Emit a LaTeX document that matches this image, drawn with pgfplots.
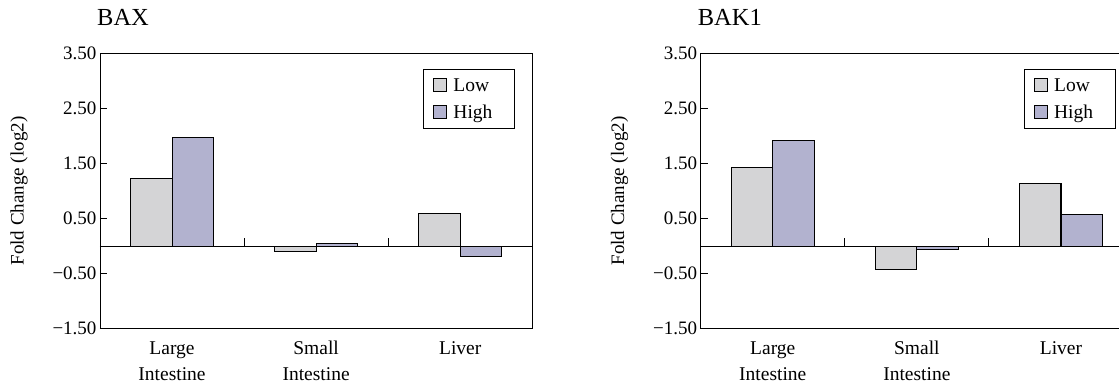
\documentclass[border=0pt]{standalone}
\usepackage{fontspec}
\setmainfont{Liberation Serif}
\usepackage{pgfplots}
\pgfplotsset{compat=1.18}
\definecolor{lowc}{RGB}{212,212,214}
\definecolor{highc}{RGB}{178,178,207}
\pgfplotsset{
  mychart/.style={
    scale only axis, width=432.3pt, height=275.4pt,
    xmin=-0.5, xmax=2.5, ymin=-1.5, ymax=3.5,
    ybar=0pt, bar width=41.5pt,
    axis line style={line width=0.9pt, black},
    xtick={0,1,2},
    xticklabels={Large\\Intestine, Small\\Intestine, Liver},
    xtick style={draw=none},
    xticklabel style={align=center, font=\fontsize{19.5}{26}\selectfont, yshift=-9pt},
    ytick={-1.5,-0.5,0.5,1.5,2.5,3.5},
    yticklabels={−1.50,−0.50,0.50,1.50,2.50,3.50},
    yticklabel style={font=\fontsize{19}{22}\selectfont},
    ytick pos=left, tick align=inside, major tick length=7pt,
    ytick style={line width=0.9pt, black},
    extra y ticks={0}, extra y tick labels={},
    extra y tick style={grid=major, major grid style={black, line width=1pt}, major tick length=0pt},
    ylabel={Fold Change (log2)},
    ylabel style={at={(axis description cs:-0.1874,0.5)}, anchor=center, font=\fontsize{19}{22}\selectfont},
    title style={at={(axis description cs:0,1)}, anchor=base west, inner sep=0pt, xshift=-3pt, yshift=22.3pt, font=\fontsize{24.5}{28}\selectfont},
    legend cell align=left,
    legend image code/.code={\draw[#1, draw=black, line width=1pt] (0pt,0.5pt) rectangle (13pt,13.5pt);},
    legend style={at={(axis description cs:0.7472,0.9419)}, anchor=north west, draw=black, line width=0.9pt,
      inner xsep=10pt, inner ysep=8pt, row sep=11.5pt, column sep=6pt,
      font=\fontsize{19.5}{23}\selectfont, nodes={inner sep=0pt, anchor=base west}},
  },
  lowbar/.style={fill=lowc, draw=black, line width=1.1pt},
  highbar/.style={fill=highc, draw=black, line width=1.1pt},
}
\begin{document}
\begin{tikzpicture}
\useasboundingbox (0,0) rectangle (1119pt,381pt);
\clip (0,0) rectangle (1119pt,381pt);
\begin{axis}[mychart, at={(100pt,52.3pt)}, anchor=south west, title={BAX}]
\addplot[lowbar] coordinates {(0,1.22) (1,-0.10) (2,0.59)};
\addplot[highbar] coordinates {(0,1.97) (1,0.05) (2,-0.19)};
\legend{Low, High\hspace*{12pt}}
\draw[line width=0.9pt] (axis cs:0.5,0) -- ++(0pt,8pt);
\draw[line width=0.9pt] (axis cs:1.5,0) -- ++(0pt,8pt);
\end{axis}
\begin{axis}[mychart, at={(700.7pt,52.3pt)}, anchor=south west, title={BAK1}]
\addplot[lowbar] coordinates {(0,1.43) (1,-0.43) (2,1.14)};
\addplot[highbar] coordinates {(0,1.91) (1,-0.06) (2,0.57)};
\legend{Low, High\hspace*{12pt}}
\draw[line width=0.9pt] (axis cs:0.5,0) -- ++(0pt,8pt);
\draw[line width=0.9pt] (axis cs:1.5,0) -- ++(0pt,8pt);
\end{axis}
\end{tikzpicture}
\end{document}
